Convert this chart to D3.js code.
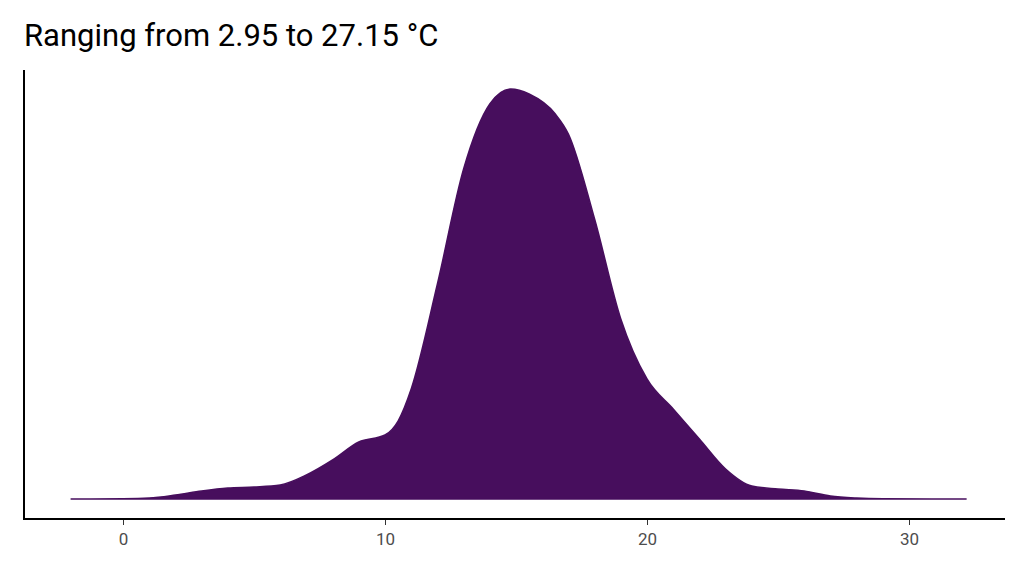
<!DOCTYPE html>
<html><head><meta charset="utf-8">
<script src="https://cdn.jsdelivr.net/npm/d3@7"></script>
<style>body{margin:0;background:#fff}</style>
</head><body>
<svg id="chart" width="1024" height="576"></svg>
<script>
// density estimate (relative height, 0..1)
const temps = [-2, 0, 1, 2, 3, 4, 5, 6, 7, 8, 9, 10, 10.5, 11, 12, 13, 14, 14.8, 15.5, 16.5, 17, 18, 19, 20, 21, 22, 23, 24, 25, 26, 27, 28, 29, 32.2];
const dens = [0, 0.3, 1, 4, 8, 11, 12, 14, 24, 39, 57, 64, 78, 110, 215, 330, 395, 410, 405, 385, 365, 280, 180, 120, 90, 60, 30, 13, 10, 8, 3, 1, 0.3, 0].map(v => v / 410);
const xTicks = [0, 10, 20, 30];
const title = "Ranging from 2.95 to 27.15 °C";

const svg = d3.select("#chart");
const x = d3.scaleLinear().domain([0, 30]).range([123, 909]);
const y = d3.scaleLinear().domain([0, 1]).range([499, 89]);
const pts = temps.map((t, i) => ({t: t, d: dens[i]}));

const area = d3.area().x(d => x(d.t)).y0(y(0)).y1(d => y(d.d)).curve(d3.curveMonotoneX);
svg.append("path").datum(pts).attr("d", area)
    .attr("fill", "#470E5D").attr("stroke", "#470E5D").attr("stroke-width", 1.5);

const xAxis = svg.append("g").attr("transform", "translate(0,519)")
    .call(d3.axisBottom(x).tickValues(xTicks).tickSize(6).tickSizeOuter(0));
xAxis.select(".domain").remove();
xAxis.selectAll("line").attr("stroke", "#333");
xAxis.selectAll("text").attr("font-family", "Roboto, Arial, sans-serif").attr("font-size", 17).attr("fill", "#4d4d4d").attr("dy", "1em");

svg.append("line").attr("x1", 24).attr("x2", 1005).attr("y1", 519).attr("y2", 519).attr("stroke", "#000").attr("stroke-width", 2);
svg.append("line").attr("x1", 24).attr("x2", 24).attr("y1", 70).attr("y2", 520).attr("stroke", "#000").attr("stroke-width", 2);

svg.append("text").attr("x", 24).attr("y", 46).text(title)
    .attr("font-family", "Roboto, Arial, sans-serif").attr("font-size", 31).attr("fill", "#000");
</script>
</body></html>
